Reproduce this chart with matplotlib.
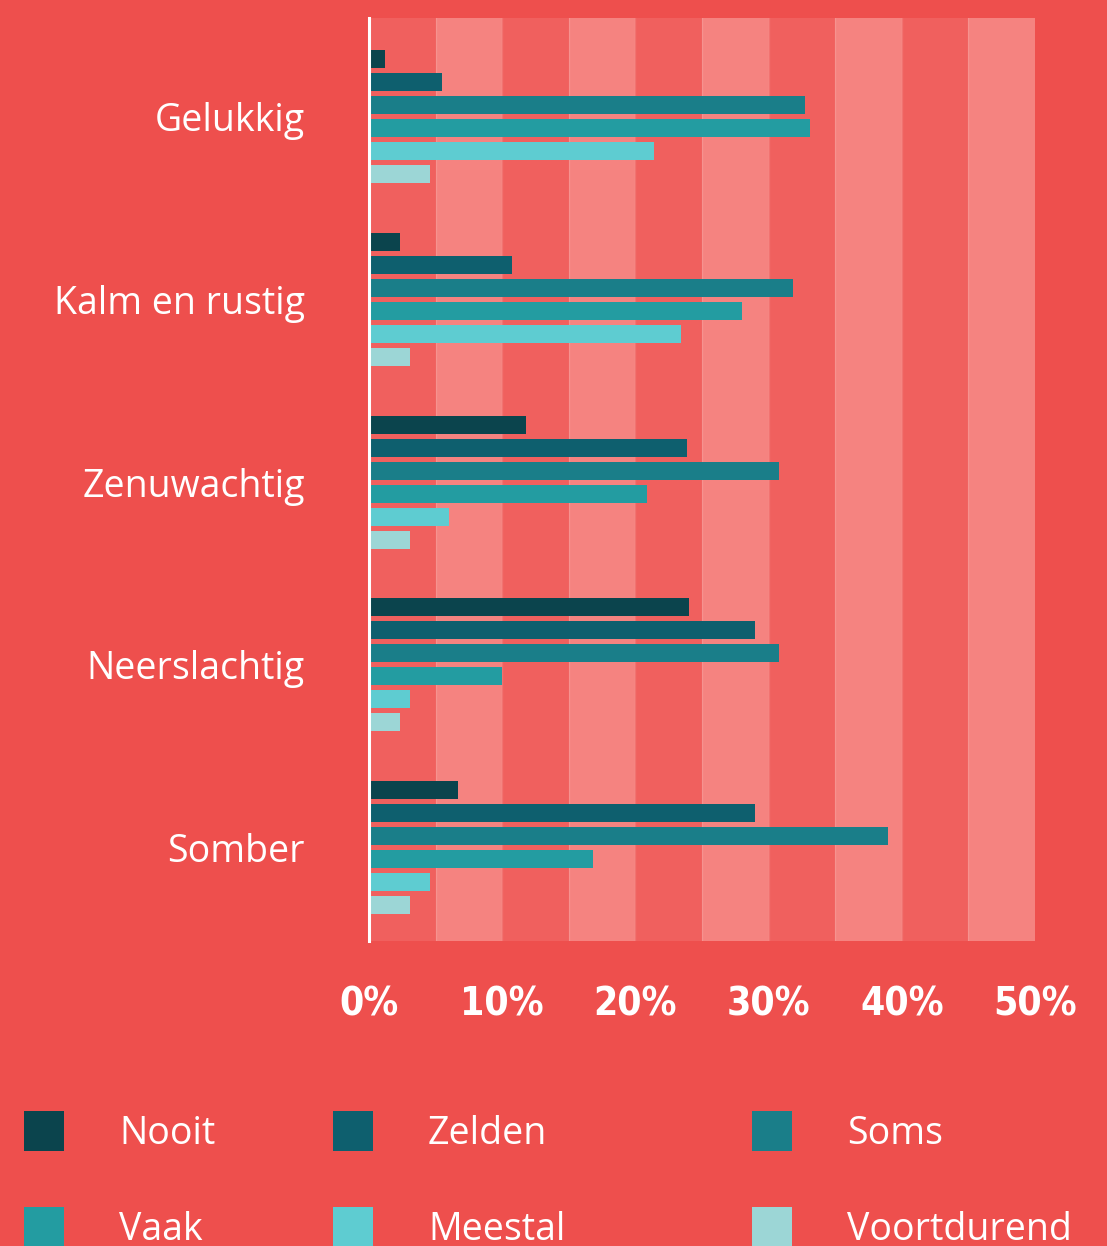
import matplotlib
matplotlib.use("Agg")
import matplotlib.pyplot as plt
from matplotlib.patches import Rectangle

categories = ["Gelukkig", "Kalm en rustig", "Zenuwachtig", "Neerslachtig", "Somber"]
series_names = ["Nooit", "Zelden", "Soms", "Vaak", "Meestal", "Voortdurend"]
nooit       = [1.2, 2.3, 11.8, 24.0, 6.7]
zelden      = [5.5, 10.7, 23.9, 29.0, 29.0]
soms        = [32.7, 31.8, 30.8, 30.8, 39.0]
vaak        = [33.1, 28.0, 20.9, 10.0, 16.8]
meestal     = [21.4, 23.4, 6.0, 3.1, 4.6]
voortdurend = [4.6, 3.1, 3.1, 2.3, 3.1]
values = [nooit, zelden, soms, vaak, meestal, voortdurend]
xticks = [0, 10, 20, 30, 40, 50]
xtick_labels = ["0%", "10%", "20%", "30%", "40%", "50%"]

colors = ["#0B444D", "#0E5F6E", "#1A7E89", "#239CA1", "#5ECCD1", "#9CD6D6"]
bg = "#EE4F4D"
band_dark = "#F0605E"
band_light = "#F58380"

W, H = 1107, 1246
fig = plt.figure(figsize=(W / 100, H / 100), dpi=100, facecolor=bg)

left, right, top, bottom = 369, 1035, 18, 941
ax = fig.add_axes([left / W, 1 - bottom / H, (right - left) / W, (bottom - top) / H])
ax.set_facecolor(band_dark)

# bands every 5%
for i in range(10):
    ax.axvspan(i * 5, (i + 1) * 5, color=band_dark if i % 2 == 0 else band_light,
               lw=0, zorder=0)
for i in range(1, 10):
    ax.axvline(i * 5, color="white", alpha=0.12, lw=1, zorder=0.5)

pitch = 23 / 182.75
bh = 18 / 182.75
for k, (vals, c) in enumerate(zip(values, colors)):
    ys = [g + (k - 2.5) * pitch for g in range(len(categories))]
    ax.barh(ys, vals, height=bh, color=c, lw=0, zorder=2)

ax.set_xlim(0, 50)
ax.set_ylim(4 + 93.5 / 182.75, -98.5 / 182.75)

for s in ["top", "right", "bottom"]:
    ax.spines[s].set_visible(False)
ax.spines["left"].set_color("white")
ax.spines["left"].set_linewidth(2.2)
ax.spines["left"].set_zorder(3)

ax.set_yticks(range(len(categories)))
ax.set_yticklabels(categories, fontsize=27, color="white", family="Open Sans")
ax.tick_params(axis="y", length=0, pad=46)

ax.set_xticks(xticks)
ax.set_xticklabels(xtick_labels, fontsize=28, color="white",
                   family="DejaVu Sans", fontstretch="condensed", fontweight="bold")
ax.tick_params(axis="x", length=0, pad=32)

# legend drawn manually (second row is cropped by the bottom edge, as in the source)
leg_sq_x = [24, 333, 752]
leg_txt_x = [119, 428, 847]
leg_rows = [1111, 1207]
for k, (name, c) in enumerate(zip(series_names, colors)):
    r, col = divmod(k, 3)
    y0 = leg_rows[r]
    fig.patches.append(Rectangle((leg_sq_x[col] / W, 1 - (y0 + 40) / H), 40 / W, 40 / H,
                                 transform=fig.transFigure, color=c, lw=0))
    fig.text(leg_txt_x[col] / W, 1 - (y0 + 33) / H, name, fontsize=27, color="white",
             family="Open Sans", va="baseline", ha="left")

fig.savefig("out.png", dpi=100, facecolor=bg)
